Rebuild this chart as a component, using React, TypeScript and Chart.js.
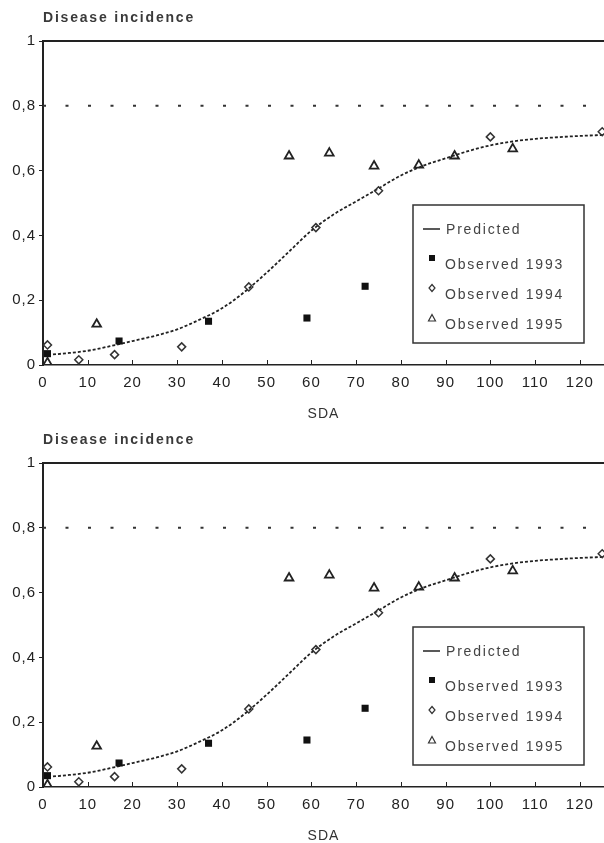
import React, { useEffect, useRef } from 'react';
import { Chart, registerables } from 'chart.js';
Chart.register(...registerables);

const chartTitle = 'Disease incidence';
const xAxisTitle = 'SDA';
const yTickLabels = ['0', '0,2', '0,4', '0,6', '0,8', '1'];
const legendLabels = ['Predicted', 'Observed 1993', 'Observed 1994', 'Observed 1995'];

const obs1993X = [1, 17, 37, 59, 72];
const obs1993Y = [0.035, 0.074, 0.135, 0.145, 0.243];

const obs1994X = [1, 8, 16, 31, 46, 61, 75, 100, 125];
const obs1994Y = [0.062, 0.016, 0.032, 0.056, 0.241, 0.424, 0.538, 0.704, 0.72];

const obs1995X = [1, 12, 55, 64, 74, 84, 92, 105];
const obs1995Y = [0.007, 0.126, 0.645, 0.654, 0.614, 0.617, 0.645, 0.667];

const predX = [0, 5, 10, 15, 20, 25, 30, 35, 40, 45, 50, 55, 60, 65, 70, 75, 80, 85, 90, 95, 100, 105, 110, 115, 120, 125.4];
const predY = [0.03, 0.036, 0.044, 0.058, 0.074, 0.09, 0.11, 0.14, 0.175, 0.225, 0.285, 0.35, 0.415, 0.465, 0.505, 0.545, 0.585, 0.615, 0.638, 0.66, 0.678, 0.69, 0.698, 0.703, 0.707, 0.71];

const refX = [0, 125.4];
const refY = [0.8, 0.8];

const xMin = 0;
const xMax = 125.4;

const pts = (xs: number[], ys: number[]) => xs.map((x, i) => ({ x, y: ys[i] }));

const decor = {
  id: 'decor',
  beforeDraw(chart: any) {
    chart.ctx.letterSpacing = '1px';
  },
  afterDraw(chart: any) {
    const { ctx, chartArea: a, scales } = chart;
    ctx.save();
    ctx.strokeStyle = '#222';
    ctx.lineWidth = 2;
    ctx.beginPath();
    ctx.moveTo(a.left, a.top);
    ctx.lineTo(a.right, a.top);
    ctx.stroke();
    ctx.lineWidth = 1;
    scales.x.ticks.forEach((t: any) => {
      const px = Math.round(scales.x.getPixelForValue(t.value)) + 0.5;
      ctx.beginPath();
      ctx.moveTo(px, a.bottom);
      ctx.lineTo(px, a.bottom - 5);
      ctx.stroke();
    });
    // title
    ctx.fillStyle = '#3a3a3a';
    ctx.font = 'bold 14px "Liberation Sans"';
    ctx.letterSpacing = '1.8px';
    ctx.textAlign = 'left';
    ctx.textBaseline = 'middle';
    ctx.fillText(chartTitle, a.left, a.top - 23);
    // legend
    const bx = a.right - 191;
    const by = a.top + 164;
    ctx.lineWidth = 1.5;
    ctx.strokeStyle = '#333';
    ctx.strokeRect(bx, by, 171, 138);
    ctx.font = '14px "Liberation Sans"';
    ctx.letterSpacing = '1.8px';
    ctx.fillStyle = '#444';
    // predicted line
    ctx.strokeStyle = '#222';
    ctx.lineWidth = 1.5;
    ctx.beginPath();
    ctx.moveTo(bx + 10, by + 24);
    ctx.lineTo(bx + 27, by + 24);
    ctx.stroke();
    ctx.fillText(legendLabels[0], bx + 33, by + 25);
    // square
    const mx = bx + 19;
    ctx.fillStyle = '#111';
    ctx.fillRect(mx - 3, by + 53 - 3, 6, 6);
    // diamond
    ctx.strokeStyle = '#333';
    ctx.lineWidth = 1.2;
    ctx.beginPath();
    ctx.moveTo(mx, by + 83 - 3.5);
    ctx.lineTo(mx + 3, by + 83);
    ctx.lineTo(mx, by + 83 + 3.5);
    ctx.lineTo(mx - 3, by + 83);
    ctx.closePath();
    ctx.stroke();
    // triangle
    ctx.beginPath();
    ctx.moveTo(mx, by + 113 - 3.5);
    ctx.lineTo(mx + 3.5, by + 113 + 3);
    ctx.lineTo(mx - 3.5, by + 113 + 3);
    ctx.closePath();
    ctx.stroke();
    ctx.fillStyle = '#444';
    ctx.fillText(legendLabels[1], bx + 32, by + 60);
    ctx.fillText(legendLabels[2], bx + 32, by + 90);
    ctx.fillText(legendLabels[3], bx + 32, by + 120);
    ctx.restore();
  },
};

function DiseaseChart() {
  const ref = useRef<HTMLCanvasElement | null>(null);
  useEffect(() => {
    if (!ref.current) return;
    const chart = new Chart(ref.current, {
      type: 'scatter',
      data: {
        datasets: [
          {
            label: legendLabels[1],
            data: pts(obs1993X, obs1993Y),
            pointStyle: 'rect',
            pointRadius: 5,
            backgroundColor: '#111',
            borderColor: '#111',
            borderWidth: 0,
          },
          {
            label: legendLabels[2],
            data: pts(obs1994X, obs1994Y),
            pointStyle: 'rectRot',
            pointRadius: 4,
            backgroundColor: 'rgba(0,0,0,0)',
            borderColor: '#333',
            borderWidth: 1.5,
          },
          {
            label: legendLabels[3],
            data: pts(obs1995X, obs1995Y),
            pointStyle: 'triangle',
            pointRadius: 5,
            backgroundColor: 'rgba(0,0,0,0)',
            borderColor: '#222',
            borderWidth: 1.8,
          },
          {
            label: legendLabels[0],
            data: pts(predX, predY),
            showLine: true,
            pointRadius: 0,
            borderColor: '#222',
            borderWidth: 1.8,
            borderDash: [3, 2],
            tension: 0.4,
            cubicInterpolationMode: 'monotone',
          } as any,
          {
            label: 'ref',
            data: pts(refX, refY),
            showLine: true,
            pointRadius: 0,
            borderColor: '#333',
            borderWidth: 2,
            borderDash: [3, 19.5],
          } as any,
        ],
      },
      options: {
        responsive: false,
        animation: false,
        devicePixelRatio: 1,
        events: [],
        layout: { autoPadding: false, padding: { top: 41, left: 0, right: 0, bottom: 0 } },
        plugins: { legend: { display: false }, tooltip: { enabled: false }, title: { display: false } },
        scales: {
          x: {
            type: 'linear',
            min: xMin,
            max: xMax,
            position: 'bottom',
            ticks: {
              stepSize: 10,
              includeBounds: false,
              autoSkip: false,
              maxRotation: 0,
              padding: 9,
              color: '#222',
              font: { family: 'Liberation Sans', size: 15 },
            },
            grid: { display: false, drawTicks: false },
            border: { display: true, color: '#222', width: 1.5 },
            title: {
              display: true,
              text: xAxisTitle,
              color: '#333',
              font: { family: 'Liberation Sans', size: 14, lineHeight: 1 },
              padding: 0,
            },
            afterFit: (s: any) => {
              s.height = 56;
            },
          },
          y: {
            type: 'linear',
            min: 0,
            max: 1,
            ticks: {
              stepSize: 0.2,
              padding: 3,
              color: '#222',
              font: { family: 'Liberation Sans', size: 15 },
              callback: (_v: any, i: number) => yTickLabels[i],
            },
            grid: { display: true, drawOnChartArea: false, drawTicks: true, tickLength: 4, color: '#222', lineWidth: 1 },
            border: { display: true, color: '#222', width: 2 },
            afterFit: (s: any) => {
              s.width = 43;
            },
          },
        },
      } as any,
      plugins: [decor],
    });
    return () => chart.destroy();
  }, []);
  return <canvas ref={ref} width={604} height={421} style={{ display: 'block', width: 604, height: 421 }} />;
}

export default function App() {
  return (
    <div style={{ position: 'absolute', left: 0, top: 0, width: 604, height: 843, background: '#fff' }}>
      <DiseaseChart />
      <div style={{ height: 1 }} />
      <DiseaseChart />
    </div>
  );
}
